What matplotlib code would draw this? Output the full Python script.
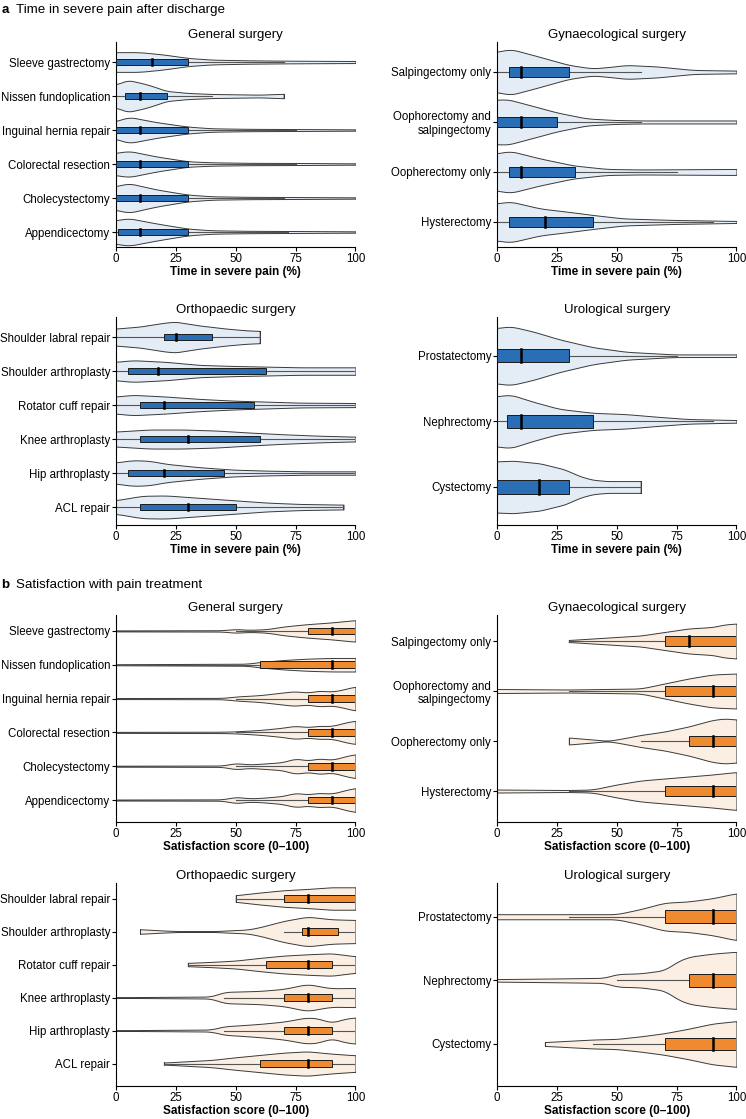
import numpy as np
import matplotlib
matplotlib.use("Agg")
import matplotlib.pyplot as plt

plt.rcParams['font.family'] = ['Liberation Sans', 'DejaVu Sans']

# ---------------- data ----------------
# box stats per category: (whisker_lo, q1, median, q3, whisker_hi)
# violin profile per category: (values, half-width in category units)

# a: time in severe pain
a_gen_names = ['Sleeve gastrectomy', 'Nissen fundoplication', 'Inguinal hernia repair',
               'Colorectal resection', 'Cholecystectomy', 'Appendicectomy']
a_gen_box = [(0, 0, 15, 30, 70), (0, 3.75, 10, 21.5, 40), (0, 0, 10, 30, 75),
             (0, 0, 10, 30, 75), (0, 0, 10, 30, 70), (0, 1, 10, 30, 72)]
a_gen_violin = [
    ([0, 10, 20, 30, 40, 55, 70, 100], [0.29, 0.29, 0.22, 0.12, 0.07, 0.05, 0.04, 0.03]),
    ([0, 5, 12, 17, 21, 30, 40, 60, 70], [0.34, 0.47, 0.36, 0.25, 0.15, 0.09, 0.06, 0.04, 0.065]),
    ([0, 5, 17, 30, 40, 55, 70, 100], [0.25, 0.39, 0.23, 0.10, 0.05, 0.035, 0.03, 0.02]),
    ([0, 5, 17, 30, 40, 55, 75, 100], [0.32, 0.39, 0.22, 0.08, 0.05, 0.035, 0.03, 0.02]),
    ([0, 5, 17, 30, 40, 55, 70, 100], [0.34, 0.44, 0.25, 0.10, 0.05, 0.035, 0.03, 0.02]),
    ([0, 5, 17, 30, 40, 55, 70, 100], [0.34, 0.41, 0.25, 0.10, 0.05, 0.035, 0.03, 0.02]),
]

a_gyn_names = ['Salpingectomy only', 'Oophorectomy and\nsalpingectomy',
               'Oopherectomy only', 'Hysterectomy']
a_gyn_box = [(0, 5, 10, 30, 60), (0, 0, 10, 25, 60), (0, 5, 10, 32.5, 75), (0, 5, 20, 40, 90)]
a_gyn_violin = [
    ([0, 5.5, 15, 30, 40, 49, 54, 67, 82, 100], [0.40, 0.46, 0.34, 0.14, 0.07, 0.11, 0.14, 0.11, 0.04, 0.027]),
    ([0, 4, 15, 25, 37.5, 49, 60, 100], [0.44, 0.46, 0.32, 0.19, 0.07, 0.04, 0.03, 0.03]),
    ([0, 5.5, 18, 32, 46, 60, 100], [0.37, 0.42, 0.27, 0.13, 0.06, 0.05, 0.06]),
    ([0, 5.5, 18, 32, 40, 53, 74, 87, 100], [0.37, 0.41, 0.27, 0.19, 0.14, 0.07, 0.04, 0.03, 0.02]),
]

a_ort_names = ['Shoulder labral repair', 'Shoulder arthroplasty', 'Rotator cuff repair',
               'Knee arthroplasty', 'Hip arthroplasty', 'ACL repair']
a_ort_box = [(0, 20, 25, 40, 60), (0, 5, 17.5, 62.5, 100), (0, 10, 20, 57.5, 100),
             (0, 10, 30, 60, 100), (0, 5, 20, 45, 100), (0, 10, 30, 50, 95)]
a_ort_violin = [
    ([0, 10, 21, 25, 35, 46, 54, 60], [0.25, 0.31, 0.43, 0.45, 0.34, 0.25, 0.20, 0.18]),
    ([0, 7, 21, 35, 49, 63, 77, 100], [0.27, 0.32, 0.27, 0.18, 0.15, 0.13, 0.11, 0.11]),
    ([0, 7, 21, 35, 49, 63, 77, 100], [0.25, 0.30, 0.25, 0.18, 0.13, 0.10, 0.07, 0.06]),
    ([0, 14, 28, 42, 56, 70, 84, 100], [0.22, 0.28, 0.28, 0.25, 0.19, 0.14, 0.10, 0.07]),
    ([0, 7, 14, 21, 35, 49, 63, 80, 100], [0.31, 0.38, 0.36, 0.27, 0.17, 0.10, 0.07, 0.05, 0.05]),
    ([0, 11, 21, 35, 49, 63, 77, 95], [0.20, 0.33, 0.34, 0.27, 0.20, 0.13, 0.09, 0.07]),
]

a_uro_names = ['Prostatectomy', 'Nephrectomy', 'Cystectomy']
a_uro_box = [(0, 0, 10, 30, 75), (0, 4, 10, 40, 90), (0, 0, 17.5, 30, 60)]
a_uro_violin = [
    ([0, 5.5, 15, 26, 40, 54, 74, 100], [0.42, 0.45, 0.37, 0.25, 0.13, 0.06, 0.02, 0.02]),
    ([0, 5.5, 15, 26, 40, 54, 67, 80, 100], [0.38, 0.41, 0.30, 0.19, 0.13, 0.11, 0.07, 0.035, 0.02]),
    ([0, 7, 18, 28, 35, 40, 46, 60], [0.39, 0.40, 0.36, 0.27, 0.16, 0.11, 0.09, 0.09]),
]

# b: satisfaction with pain treatment
b_gen_names = a_gen_names
b_gen_box = [(50, 80, 90, 100, 100), (0, 60, 90, 100, 100), (50, 80, 90, 100, 100),
             (50, 80, 90, 100, 100), (50, 80, 90, 100, 100), (50, 80, 90, 100, 100)]
b_gen_violin = [
    ([0, 45, 50, 55, 63, 70, 80, 90, 100], [0.015, 0.02, 0.06, 0.03, 0.05, 0.13, 0.20, 0.25, 0.32]),
    ([0, 55, 60, 70, 80, 90, 100], [0.015, 0.03, 0.08, 0.14, 0.18, 0.20, 0.20]),
    ([0, 45, 50, 60, 70, 75, 80, 85, 90, 95, 100], [0.015, 0.02, 0.06, 0.10, 0.18, 0.22, 0.17, 0.24, 0.20, 0.27, 0.36]),
    ([0, 45, 50, 60, 70, 75, 80, 85, 90, 95, 100], [0.015, 0.02, 0.03, 0.07, 0.14, 0.20, 0.15, 0.20, 0.18, 0.28, 0.35]),
    ([0, 45, 50, 55, 60, 70, 75, 80, 85, 90, 95, 100], [0.015, 0.02, 0.10, 0.05, 0.07, 0.12, 0.24, 0.16, 0.24, 0.18, 0.28, 0.36]),
    ([0, 45, 50, 55, 60, 70, 75, 80, 85, 90, 95, 100], [0.015, 0.02, 0.10, 0.05, 0.06, 0.12, 0.22, 0.16, 0.22, 0.18, 0.28, 0.36]),
]

b_gyn_names = a_gyn_names
b_gyn_box = [(30, 70, 80, 100, 100), (30, 70, 90, 100, 100), (60, 80, 90, 100, 100), (30, 70, 90, 100, 100)]
b_gyn_violin = [
    ([30, 40, 50, 60, 70, 80, 90, 95, 100], [0.02, 0.05, 0.08, 0.11, 0.18, 0.25, 0.28, 0.33, 0.35]),
    ([0, 30, 60, 65, 70, 75, 80, 90, 100], [0.04, 0.03, 0.05, 0.10, 0.15, 0.20, 0.25, 0.33, 0.35]),
    ([30, 40, 46, 50, 60, 70, 80, 90, 95, 100], [0.07, 0.03, 0.005, 0.03, 0.12, 0.19, 0.29, 0.42, 0.45, 0.43]),
    ([0, 30, 40, 50, 60, 70, 80, 90, 100], [0.03, 0.02, 0.03, 0.13, 0.21, 0.25, 0.29, 0.33, 0.38]),
]

b_ort_names = a_ort_names
b_ort_box = [(50, 70, 80, 100, 100), (70, 77.5, 80, 92.5, 100), (30, 62.5, 80, 90, 100),
             (45, 70, 80, 90, 100), (45, 70, 80, 90, 100), (20, 60, 80, 90, 100)]
b_ort_violin = [
    ([50, 60, 70, 80, 90, 100], [0.10, 0.18, 0.25, 0.29, 0.34, 0.34]),
    ([10, 20, 30, 40, 55, 60, 70, 80, 90, 100], [0.07, 0.03, 0.005, 0.01, 0.06, 0.13, 0.32, 0.45, 0.37, 0.35]),
    ([30, 40, 50, 60, 70, 80, 90, 100], [0.05, 0.08, 0.12, 0.20, 0.27, 0.31, 0.34, 0.25]),
    ([0, 40, 45, 50, 60, 70, 80, 85, 90, 100], [0.01, 0.03, 0.17, 0.18, 0.20, 0.26, 0.41, 0.34, 0.28, 0.29]),
    ([0, 40, 45, 50, 60, 70, 80, 85, 90, 95, 100], [0.01, 0.03, 0.13, 0.15, 0.20, 0.27, 0.40, 0.36, 0.23, 0.35, 0.40]),
    ([20, 30, 40, 50, 60, 70, 80, 90, 100], [0.03, 0.07, 0.11, 0.19, 0.26, 0.33, 0.37, 0.30, 0.25]),
]

b_uro_names = a_uro_names
b_uro_box = [(30, 70, 90, 100, 100), (50, 80, 90, 100, 100), (40, 70, 90, 100, 100)]
b_uro_violin = [
    ([0, 45, 50, 60, 70, 80, 90, 100], [0.04, 0.04, 0.04, 0.12, 0.22, 0.24, 0.29, 0.37]),
    ([0, 25, 45, 50, 60, 70, 75, 80, 90, 100], [0.02, 0.03, 0.04, 0.10, 0.11, 0.16, 0.29, 0.37, 0.42, 0.45]),
    ([20, 30, 40, 50, 60, 70, 80, 90, 100], [0.03, 0.05, 0.07, 0.08, 0.12, 0.17, 0.24, 0.32, 0.36]),
]

BLUE, BLUE_FILL = '#2a6eb5', '#e4ecf5'
ORANGE, ORANGE_FILL = '#ef8a2f', '#fbeee2'


def smooth_profile(xs, ws):
    xg = np.linspace(xs[0], xs[-1], 300)
    wg = np.interp(xg, xs, ws)
    k = 9
    pad = np.pad(wg, k, mode='edge')
    wg = np.convolve(pad, np.ones(2 * k + 1) / (2 * k + 1), mode='same')[k:-k]
    return xg, wg


def draw_panel(ax, title, names, box, violins, ylim, color, fill, xlabel):
    n = len(names)
    ys = np.arange(n, 0, -1)
    for y, (lo, q1, med, q3, hi), (xs, ws) in zip(ys, box, violins):
        xg, wg = smooth_profile(xs, ws)
        ax.fill_between(xg, y - wg, y + wg, facecolor=fill, edgecolor='#3a3a3a', lw=0.7, zorder=1)
        ax.plot([xg[0], xg[0]], [y - wg[0], y + wg[0]], color='#3a3a3a', lw=0.7, zorder=1)
        ax.plot([xg[-1], xg[-1]], [y - wg[-1], y + wg[-1]], color='#3a3a3a', lw=0.7, zorder=1)
        ax.plot([lo, hi], [y, y], color='#555555', lw=0.8, zorder=2)
        ax.barh(y, q3 - q1, left=q1, height=0.2, color=color, edgecolor='#1a1a1a', lw=0.7, zorder=3)
        ax.plot([med, med], [y - 0.1, y + 0.1], color='black', lw=1.8, zorder=4)
    ax.set_yticks(ys)
    ax.set_yticklabels(names, fontsize=8.3, ha='right', multialignment='right')
    ax.set_xlim(0, 100)
    ax.set_ylim(*ylim)
    ax.set_xticks([0, 25, 50, 75, 100])
    ax.tick_params(axis='x', labelsize=8.3, length=3, width=0.8, pad=1.5)
    ax.tick_params(axis='y', length=3, width=0.8, pad=1.2)
    for s in ['top', 'right']:
        ax.spines[s].set_visible(False)
    for s in ['left', 'bottom']:
        ax.spines[s].set_linewidth(0.8)
    ax.set_title(title, fontsize=9.5, pad=3)
    ax.set_xlabel(xlabel, fontsize=8.5, fontweight='bold', labelpad=0.5)


fig = plt.figure(figsize=(7.46, 11.19), dpi=100)
L, R, W = 0.1555, 0.6662, 0.321

ax = fig.add_axes([L, 0.7793, W, 0.1832])
draw_panel(ax, 'General surgery', a_gen_names, a_gen_box, a_gen_violin, (0.56, 6.59), BLUE, BLUE_FILL, 'Time in severe pain (%)')
ax = fig.add_axes([R, 0.7793, W, 0.1832])
draw_panel(ax, 'Gynaecological surgery', a_gyn_names, a_gyn_box, a_gyn_violin, (0.5, 4.6), BLUE, BLUE_FILL, 'Time in severe pain (%)')
ax = fig.add_axes([L, 0.5308, W, 0.1859])
draw_panel(ax, 'Orthopaedic surgery', a_ort_names, a_ort_box, a_ort_violin, (0.47, 6.59), BLUE, BLUE_FILL, 'Time in severe pain (%)')
ax = fig.add_axes([R, 0.5308, W, 0.1859])
draw_panel(ax, 'Urological surgery', a_uro_names, a_uro_box, a_uro_violin, (0.42, 3.59), BLUE, BLUE_FILL, 'Time in severe pain (%)')

ax = fig.add_axes([L, 0.2654, W, 0.1850])
draw_panel(ax, 'General surgery', b_gen_names, b_gen_box, b_gen_violin, (0.35, 6.47), ORANGE, ORANGE_FILL, 'Satisfaction score (0\u2013100)')
ax = fig.add_axes([R, 0.2654, W, 0.1850])
draw_panel(ax, 'Gynaecological surgery', b_gyn_names, b_gyn_box, b_gyn_violin, (0.38, 4.52), ORANGE, ORANGE_FILL, 'Satisfaction score (0\u2013100)')
ax = fig.add_axes([L, 0.0295, W, 0.1814])
draw_panel(ax, 'Orthopaedic surgery', b_ort_names, b_ort_box, b_ort_violin, (0.32, 6.47), ORANGE, ORANGE_FILL, 'Satisfaction score (0\u2013100)')
ax = fig.add_axes([R, 0.0295, W, 0.1814])
draw_panel(ax, 'Urological surgery', b_uro_names, b_uro_box, b_uro_violin, (0.34, 3.53), ORANGE, ORANGE_FILL, 'Satisfaction score (0\u2013100)')

fig.text(0.002, 0.991, 'a', fontsize=9.6, fontweight='bold', va='center')
fig.text(0.022, 0.991, 'Time in severe pain after discharge', fontsize=9.6, va='center')
fig.text(0.002, 0.477, 'b', fontsize=9.6, fontweight='bold', va='center')
fig.text(0.022, 0.477, 'Satisfaction with pain treatment', fontsize=9.6, va='center')

fig.savefig('out.png', dpi=100)
